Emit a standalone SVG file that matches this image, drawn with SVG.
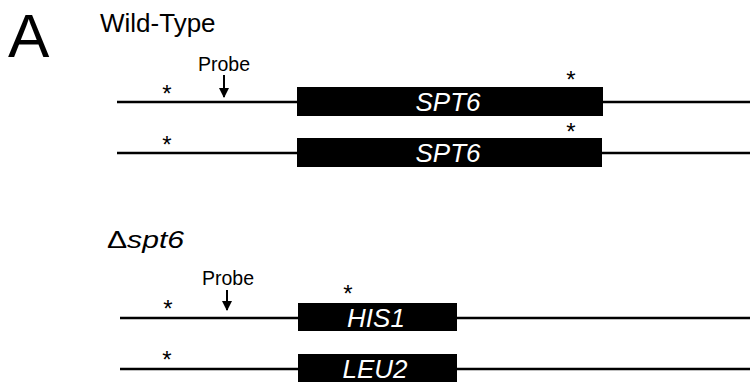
<svg xmlns="http://www.w3.org/2000/svg" width="750" height="385" viewBox="0 0 750 385">
  <style>
    text { font-family: "Liberation Sans", Arial, sans-serif; fill: #000; }
    .dna { stroke: #000; stroke-width: 2.5; fill: none; }
    .gene { fill: #000; }
    .glabel { fill: #fff; font-size: 26px; font-style: italic; text-anchor: middle; }
    .star { font-size: 24px; text-anchor: middle; }
    .probe { font-size: 19.5px; text-anchor: middle; }
    .arrow { stroke: #000; stroke-width: 2; }
  </style>
  <defs>
    <marker id="head" viewBox="0 0 10 10" refX="9" refY="5" markerWidth="5" markerHeight="5" orient="auto" markerUnits="strokeWidth">
      <path d="M0,0 L10,5 L0,10 z" fill="#000"/>
    </marker>
  </defs>

  <text x="8" y="57" font-size="62">A</text>
  <text x="100" y="32" font-size="26">Wild-Type</text>
  <text x="107" y="248" font-size="24" textLength="77" lengthAdjust="spacingAndGlyphs">Δ<tspan font-style="italic">spt6</tspan></text>

  <g id="connectors">
    <line class="dna" x1="117" y1="102" x2="750" y2="102"/>
    <line class="dna" x1="117" y1="153" x2="750" y2="153"/>
    <line class="dna" x1="120" y1="318" x2="750" y2="318"/>
    <line class="dna" x1="120" y1="369" x2="750" y2="369"/>
    <line class="arrow" x1="224" y1="75" x2="224" y2="97" marker-end="url(#head)"/>
    <line class="arrow" x1="227" y1="290" x2="227" y2="310" marker-end="url(#head)"/>
  </g>

  <g id="wt-probe"><text class="probe" x="224" y="71">Probe</text></g>
  <g id="wt-spt6-a">
    <rect class="gene" x="297" y="87" width="306" height="29"/>
    <text class="glabel" x="448" y="111">SPT6</text>
  </g>
  <g id="wt-spt6-b">
    <rect class="gene" x="297" y="138" width="305" height="29"/>
    <text class="glabel" x="448" y="162">SPT6</text>
  </g>
  <g id="wt-stars">
    <text class="star" x="167" y="102">*</text>
    <text class="star" x="571" y="88">*</text>
    <text class="star" x="167" y="153">*</text>
    <text class="star" x="571" y="140">*</text>
  </g>

  <g id="ko-probe"><text class="probe" x="228" y="285">Probe</text></g>
  <g id="ko-his1">
    <rect class="gene" x="298" y="303" width="159" height="28"/>
    <text class="glabel" x="376" y="327">HIS1</text>
  </g>
  <g id="ko-leu2">
    <rect class="gene" x="298" y="354" width="159" height="28"/>
    <text class="glabel" x="375" y="378">LEU2</text>
  </g>
  <g id="ko-stars">
    <text class="star" x="168" y="317">*</text>
    <text class="star" x="348" y="302">*</text>
    <text class="star" x="167" y="368">*</text>
  </g>
</svg>
